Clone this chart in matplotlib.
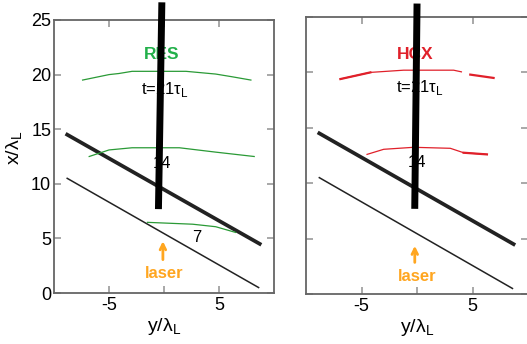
import matplotlib
matplotlib.use("Agg")
import matplotlib.pyplot as plt

plt.rcParams['font.family'] = ['Liberation Sans', 'DejaVu Sans']
plt.rcParams['mathtext.fontset'] = 'custom'
plt.rcParams['mathtext.rm'] = 'Liberation Sans'

# diagonal boundaries (same in both panels)
thick_y = [-8.8, 8.7]
thick_x = [14.5, 4.5]
thin_y = [-8.8, 8.6]
thin_x = [10.5, 0.5]

# the vertical black bar
bar_left_y = [-0.2, -0.5]
bar_left_x = [26.3, 8.0]
bar_right_y = [0.0, -0.2]
bar_right_x = [25.9, 8.0]

# RES fronts (green)
res21_y = [-7.4, -5.0, -4.1, -2.9, -0.75, 2.0, 4.7, 6.2, 7.9]
res21_x = [19.5, 20.0, 20.1, 20.3, 20.3, 20.3, 20.05, 19.8, 19.5]
res14_y = [-6.8, -5.0, -2.9, 1.4, 4.7, 8.2]
res14_x = [12.5, 13.1, 13.3, 13.3, 12.9, 12.5]
res7_y = [-1.5, 2.6, 4.7, 6.5]
res7_x = [6.47, 6.3, 6.07, 5.55]

# HCX fronts (red)
hcx21_y = [-6.9, -4.2, -1.2, 3.3, 4.0]
hcx21_x = [19.4, 20.0, 20.2, 20.2, 20.05]
hcx21b_y = [4.8, 6.9]
hcx21b_x = [19.8, 19.5]
hcx14_y = [-4.5, -3.0, -0.3, 3.0, 4.2, 6.3]
hcx14_x = [12.6, 13.06, 13.24, 13.15, 12.75, 12.6]

green = '#2a9a36'
red = '#e0202a'
orange = '#ffa620'

fig = plt.figure(figsize=(5.27, 3.44), dpi=100)
ax1 = fig.add_axes([54/527, 51/344, 220/527, 273/344])
ax2 = fig.add_axes([306/527, 50/344, 222/527, 277/344])


def style(ax, left_labels):
    ax.set_xlim(-10, 10)
    ax.set_ylim(0, 25)
    ax.set_xticks([-5, 0, 5])
    ax.set_xticklabels(['-5', '', '5'])
    ax.set_yticks([0, 5, 10, 15, 20, 25])
    if not left_labels:
        ax.set_yticklabels([])
    ax.tick_params(direction='in', length=5, width=1.2, color='#999999',
                   top=True, right=True, labelsize=13, pad=3)
    ax.tick_params(axis='y', pad=2)
    for s in ax.spines.values():
        s.set_color('#666666')
        s.set_linewidth(1.3)
    ax.set_xlabel(r'y/λ$_{\mathregular{L}}$', fontsize=14, labelpad=1)
    ax.plot(thick_y, thick_x, color='#222222', lw=2.7)
    ax.plot(thin_y, thin_x, color='#222222', lw=1.1)


style(ax1, True)
style(ax2, False)
ax1.set_ylabel(r'x/λ$_{\mathregular{L}}$', fontsize=14)
ax1.yaxis.set_label_coords(-0.13, 0.53)

# left panel: RES
ax1.plot(res21_y, res21_x, color=green, lw=0.9)
ax1.plot(res14_y, res14_x, color=green, lw=0.9)
ax1.plot(res7_y, res7_x, color=green, lw=0.9)
ax1.text(-0.2, 21.8, 'RES', color='#22b04a', fontsize=12.5, fontweight='bold',
         ha='center', va='center')
ax1.text(0.05, 18.6, r't=21τ$_{\mathregular{L}}$', fontsize=12, ha='center', va='center')
ax1.text(-0.15, 11.9, '14', fontsize=12, ha='center', va='center')
ax1.text(3.0, 5.1, '7', fontsize=12, ha='center', va='center')
ax1.annotate('', xy=(-0.1, 5.0), xytext=(-0.1, 2.8),
             arrowprops=dict(arrowstyle='->', color=orange, lw=2))
ax1.text(0, 1.8, 'laser', color=orange, fontsize=12, fontweight='bold',
         ha='center', va='center')
ax1.plot(bar_left_y, bar_left_x, color='black', lw=5, clip_on=False, zorder=5)

# right panel: HCX
ax2.plot(hcx21_y, hcx21_x, color=red, lw=0.9)
ax2.plot(hcx21_y[:2], hcx21_x[:2], color=red, lw=1.6)
ax2.plot(hcx21b_y, hcx21b_x, color=red, lw=1.6)
ax2.plot(hcx14_y, hcx14_x, color=red, lw=0.9)
ax2.plot(hcx14_y[-2:], hcx14_x[-2:], color=red, lw=1.6)
ax2.text(-0.15, 21.6, 'HCX', color=red, fontsize=12.5, fontweight='bold',
         ha='center', va='center')
ax2.text(0.3, 18.65, r't=21τ$_{\mathregular{L}}$', fontsize=12, ha='center', va='center')
ax2.text(0, 11.9, '14', fontsize=12, ha='center', va='center')
ax2.annotate('', xy=(-0.2, 4.6), xytext=(-0.2, 2.6),
             arrowprops=dict(arrowstyle='->', color=orange, lw=2))
ax2.text(0, 1.56, 'laser', color=orange, fontsize=12, fontweight='bold',
         ha='center', va='center')
ax2.plot(bar_right_y, bar_right_x, color='black', lw=5, clip_on=False, zorder=5)

fig.savefig('out.png', dpi=100)
